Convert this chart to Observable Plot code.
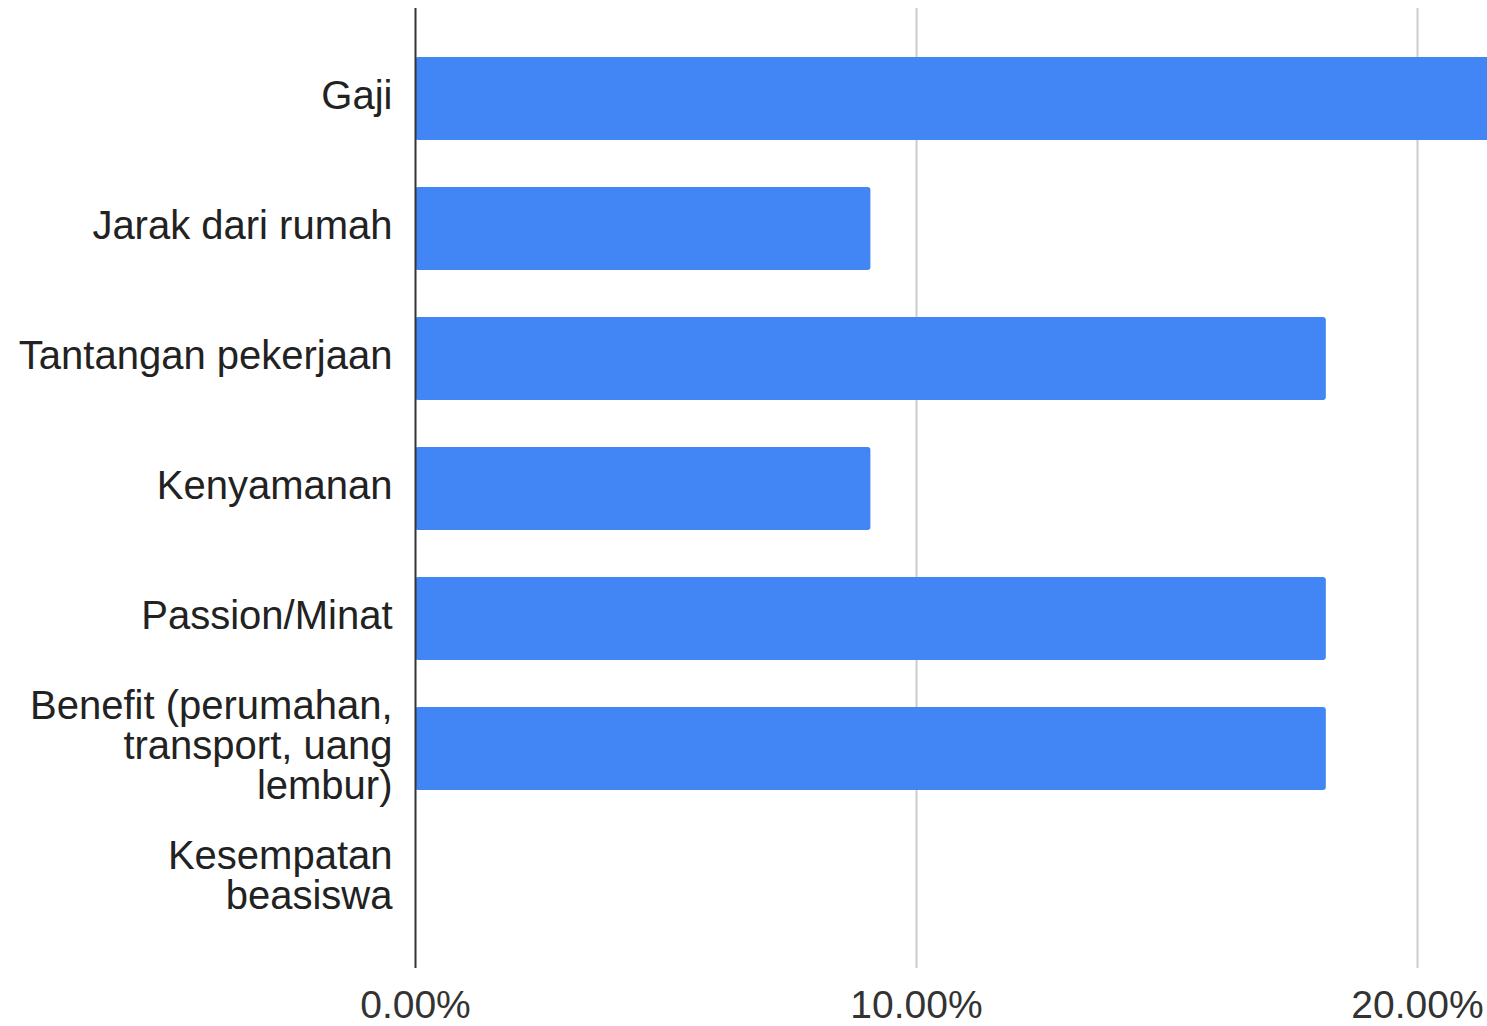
<!DOCTYPE html>
<html>
<head>
<meta charset="utf-8">
<script src="https://cdn.jsdelivr.net/npm/d3@7"></script>
<script src="https://cdn.jsdelivr.net/npm/@observablehq/plot@0.6"></script>
<style>
  html, body { margin: 0; padding: 0; background: #fff; overflow: hidden; }
  #chart svg { display: block; }
</style>
</head>
<body>
<div id="chart"></div>
<script>
const categories = [
  "Gaji",
  "Jarak dari rumah",
  "Tantangan pekerjaan",
  "Kenyamanan",
  "Passion/Minat",
  "Benefit (perumahan, transport, uang lembur)",
  "Kesempatan beasiswa"
];
const labels = [
  "Gaji",
  "Jarak dari rumah",
  "Tantangan pekerjaan",
  "Kenyamanan",
  "Passion/Minat",
  "Benefit (perumahan,\ntransport, uang\nlembur)",
  "Kesempatan\nbeasiswa"
];
const values = [0.2727, 0.0909, 0.1818, 0.0909, 0.1818, 0.1818, 0];
const xTicks = [0, 0.1, 0.2];

const data = categories.map((c, i) => ({category: c, value: values[i]}));
const labelOf = new Map(categories.map((c, i) => [c, labels[i]]));

const chart = Plot.plot({
  width: 1487,
  height: 1026,
  marginLeft: 415,
  marginRight: 0,
  marginTop: 8,
  marginBottom: 58,
  style: {fontFamily: "'Liberation Sans', Arial, sans-serif", background: "#fff", color: "#222"},
  x: {domain: [0, 0.21397], axis: null},
  y: {domain: categories, padding: 0.365, axis: null},
  marks: [
    Plot.ruleX(xTicks.filter(d => d > 0), {stroke: "#cccccc", strokeWidth: 2}),
    Plot.barX(data, {x: "value", y: "category", fill: "#4285F4", rx: 3, clip: true}),
    Plot.ruleX([0], {stroke: "#333333", strokeWidth: 2}),
    Plot.axisY({
      label: null,
      tickSize: 0,
      tickPadding: 23,
      fontSize: 40,
      lineHeight: 1.0,
      dy: -3,
      fill: "#222",
      tickFormat: d => labelOf.get(d)
    }),
    Plot.axisX(xTicks, {
      label: null,
      tickSize: 0,
      tickPadding: 22,
      fontSize: 39,
      fill: "#333",
      tickFormat: d3.format(".2%")
    })
  ]
});
document.getElementById("chart").appendChild(chart);
</script>
</body>
</html>
